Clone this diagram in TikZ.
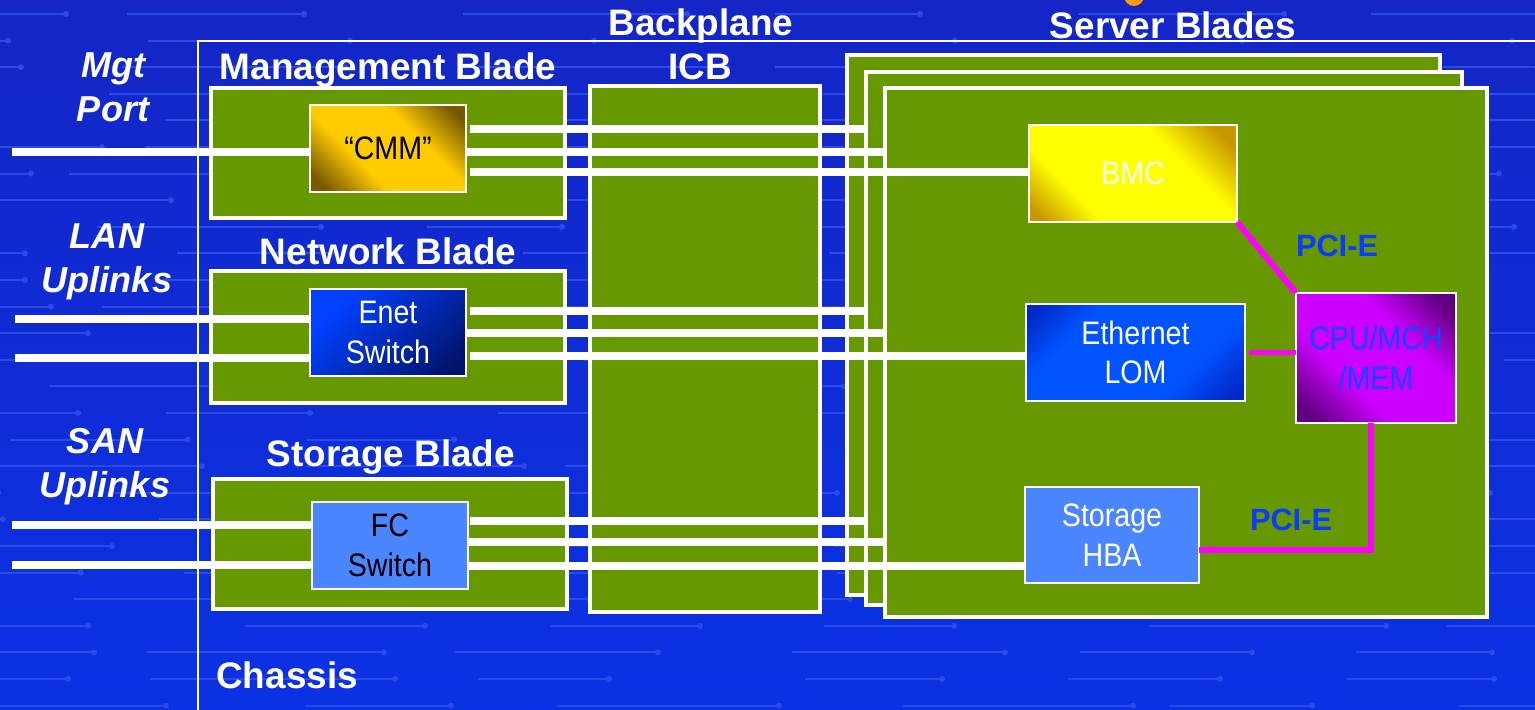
\documentclass[tikz,border=0pt]{standalone}
\usepackage{fontspec}
\setmainfont{Liberation Sans}
\newfontfamily\narrowsans[FakeStretch=0.88]{Liberation Sans}
\usetikzlibrary{calc}
\pgfdeclarelayer{bglayer}
\pgfdeclarelayer{bladelayer}
\pgfdeclarelayer{wirea}
\pgfdeclarelayer{sbmid}
\pgfdeclarelayer{wireb}
\pgfsetlayers{bglayer,bladelayer,wirea,sbmid,wireb,main}

\definecolor{bgtop}{RGB}{20,38,198}
\definecolor{bgbot}{RGB}{10,50,228}
\definecolor{patc}{RGB}{44,74,230}
\definecolor{bladegreen}{RGB}{102,153,0}
\definecolor{cmmgold}{RGB}{255,204,0}
\definecolor{cmmdark}{RGB}{120,88,0}
\definecolor{bmcyellow}{RGB}{255,255,0}
\definecolor{bmcdark}{RGB}{200,150,0}
\definecolor{cpumag}{RGB}{204,0,255}
\definecolor{cpudark}{RGB}{96,0,128}
\definecolor{enetlight}{RGB}{0,64,255}
\definecolor{enetdark}{RGB}{0,20,110}
\definecolor{lomblue}{RGB}{0,84,255}
\definecolor{lomdark}{RGB}{0,40,200}
\definecolor{hbablue}{RGB}{74,134,255}
\definecolor{pciblue}{RGB}{10,60,255}
\definecolor{cputext}{RGB}{20,70,255}
\definecolor{pcimag}{RGB}{255,0,255}
\definecolor{titleorange}{RGB}{255,153,0}

\pgfdeclarehorizontalshading{cmmsh}{100bp}{color(0bp)=(cmmdark); color(20bp)=(cmmdark); color(38bp)=(cmmgold); color(62bp)=(cmmgold); color(80bp)=(cmmdark); color(100bp)=(cmmdark)}
\pgfdeclarehorizontalshading{bmcsh}{100bp}{color(0bp)=(bmcdark); color(18bp)=(bmcdark); color(32bp)=(bmcyellow); color(64bp)=(bmcyellow); color(80bp)=(bmcdark); color(100bp)=(bmcdark)}
\pgfdeclarehorizontalshading{cpush}{100bp}{color(0bp)=(cpudark); color(20bp)=(cpudark); color(38bp)=(cpumag); color(62bp)=(cpumag); color(80bp)=(cpudark); color(100bp)=(cpudark)}
\pgfdeclarehorizontalshading{enetsh}{100bp}{color(0bp)=(enetlight); color(28bp)=(enetlight); color(78bp)=(enetdark); color(100bp)=(enetdark)}
\pgfdeclarehorizontalshading{lomsh}{100bp}{color(0bp)=(lomdark); color(18bp)=(lomdark); color(32bp)=(lomblue); color(66bp)=(lomblue); color(82bp)=(lomdark); color(100bp)=(lomdark)}

\tikzset{
  blade/.style={draw=white, line width=2.2pt, fill=bladegreen, inner sep=0pt, outer sep=0pt},
  chip/.style={draw=white, line width=1.1pt, inner sep=0pt, outer sep=0pt, align=center,
    font=\narrowsans\fontsize{18.5}{22.5}\selectfont},
  lbl/.style={text=white, font=\bfseries\fontsize{21}{25}\selectfont, inner sep=0pt, anchor=base},
  portlbl/.style={text=white, font=\bfseries\itshape\fontsize{20.5}{25}\selectfont, align=center, inner sep=0pt},
  wire/.style={draw=white, line width=4pt},
  pcie/.style={draw=pcimag, line width=3.4pt},
  pcilbl/.style={text=pciblue, font=\bfseries\fontsize{17.5}{20}\selectfont, inner sep=0pt},
  patline/.style={draw=patc, line width=1.1pt},
  patdot/.style={fill=patc},
}

\begin{document}
\begin{tikzpicture}[x=0.02cm, y=-0.02cm]
\useasboundingbox (0,0) rectangle (1535,710);

% ---------- background ----------
\begin{pgfonlayer}{bglayer}
  \shade[top color=bgtop, bottom color=bgbot] (0,0) rectangle (1535,710);
  \begin{scope}
    \clip (0,0) rectangle (1535,710);
    \pgfmathsetseed{42}
    \foreach \r in {0,...,26}{
      \pgfmathsetmacro{\yy}{14+26.6*\r}
      \pgfmathrandominteger{\off}{-280}{-20}
      \foreach \k in {0,...,6}{
        \pgfmathrandominteger{\ga}{0}{70}
        \pgfmathrandominteger{\seglen}{130}{250}
        \pgfmathsetmacro{\xa}{\off+\k*300+\ga}
        \pgfmathsetmacro{\xb}{\xa+\seglen}
        \draw[patline] (\xa,\yy) -- (\xb,\yy);
        \fill[patdot] (\xb,\yy) circle[radius=1.7pt];
      }
    }
    \fill[titleorange] (1134,-4) ellipse [x radius=0.2cm, y radius=0.2cm];
  \end{scope}
  % chassis outline
  \draw[white, line width=1.2pt] (198,720) |- (1545,41);
\end{pgfonlayer}

% ---------- blades ----------
\begin{pgfonlayer}{bladelayer}
  \node[blade, minimum width=7.08cm, minimum height=2.6cm]  (mgmt) at (388,153) {};
  \node[blade, minimum width=7.08cm, minimum height=2.64cm] (net)  at (388,337) {};
  \node[blade, minimum width=7.08cm, minimum height=2.6cm]  (stor) at (390,544) {};
  \node[blade, minimum width=4.6cm,  minimum height=10.52cm] (icb) at (705,349) {};
  \node[blade, minimum width=11.86cm, minimum height=10.8cm] (sb1) at (1143.5,325) {};
\end{pgfonlayer}
\begin{pgfonlayer}{sbmid}
  \node[blade, minimum width=11.92cm, minimum height=10.66cm] (sb2) at (1164,338.5) {};
\end{pgfonlayer}
\node[blade, minimum width=12.04cm, minimum height=10.58cm] (sb3) at (1186,352.5) {};

% ---------- chips ----------
\node[chip, shade, shading=cmmsh, shading angle=45, text=black,
      minimum width=3.12cm, minimum height=1.74cm] (cmm) at (388,148.5) {“CMM”};
\node[chip, shade, shading=enetsh, shading angle=-45, text=white,
      minimum width=3.12cm, minimum height=1.74cm] (enet) at (388,332.5) {Enet\\Switch};
\node[chip, fill=hbablue, text=black,
      minimum width=3.12cm, minimum height=1.74cm] (fc) at (390,545.5) {FC\\Switch};
\node[chip, shade, shading=bmcsh, shading angle=45, text=white,
      minimum width=4.16cm, minimum height=1.94cm] (bmc) at (1133,173.5) {BMC};
\node[chip, shade, shading=lomsh, shading angle=-45, text=white,
      minimum width=4.38cm, minimum height=1.94cm] (lom) at (1135.5,352.5) {Ethernet\\LOM};
\node[chip, shade, shading=cpush, shading angle=45, text=cputext,
      minimum width=3.2cm, minimum height=2.6cm] (cpu) at (1376,358) {CPU/MCH\\/MEM};
\node[chip, fill=hbablue, text=white,
      minimum width=3.48cm, minimum height=1.92cm] (hba) at (1112,535) {Storage\\HBA};

% ---------- labels ----------
\node[portlbl] (mgtlbl) at (113,87)  {Mgt\\Port};
\node[portlbl] (lanlbl) at (107,262) {LAN\\Uplinks};
\node[portlbl] (sanlbl) at (105,467) {SAN\\Uplinks};
\node[lbl] (mgmtlbl) at (388,79)  {Management Blade};
\node[lbl] (netlbl)  at (388,264) {Network Blade};
\node[lbl] (storlbl) at (391,466) {Storage Blade};
\node[lbl] (bplbl)   at (701,35)  {Backplane};
\node[lbl] (icblbl)  at (700,79)  {ICB};
\node[lbl] (sblbl)   at (1173,38) {Server Blades};
\node[lbl, anchor=base west] (chlbl) at (216,688) {Chassis};
\node[pcilbl] (pci1) at (1337,246) {PCI-E};
\node[pcilbl] (pci2) at (1291,520) {PCI-E};

% ---------- external ports ----------
\coordinate (mgtport) at (12,152);
\coordinate (lan1) at (15,319);
\coordinate (lan2) at (15,358);
\coordinate (san1) at (12,525);
\coordinate (san2) at (12,565);

\begin{pgfonlayer}{wirea}
  \draw[wire] (mgtport) -- (mgtport -| cmm.west);
  \draw[wire] (lan1) -- (lan1 -| enet.west);
  \draw[wire] (lan2) -- (lan2 -| enet.west);
  \draw[wire] (san1) -- (san1 -| fc.west);
  \draw[wire] (san2) -- (san2 -| fc.west);
  % to the rear server blade
  \draw[wire] ([xshift=2.3pt]cmm.east |- 0,129)  -- (sb2.west |- 0,129);
  \draw[wire] ([xshift=2.3pt]enet.east |- 0,311) -- (sb2.west |- 0,311);
  \draw[wire] ([xshift=1pt]fc.east |- 0,521)     -- (sb2.west |- 0,521);
\end{pgfonlayer}

\begin{pgfonlayer}{wireb}
  \draw[wire] (cmm.east |- 0,152)  -- (sb3.west |- 0,152);
  \draw[wire] (enet.east |- 0,333) -- (sb3.west |- 0,333);
  \draw[wire] (fc.east |- 0,542)   -- (sb3.west |- 0,542);
\end{pgfonlayer}

\draw[wire] ([xshift=2.3pt]cmm.east |- 0,172)  -- (bmc.west |- 0,172);
\draw[wire] ([xshift=2.3pt]enet.east |- 0,356) -- (lom.west |- 0,356);
\draw[wire] (fc.east |- 0,566) -- (hba.west |- 0,566);

% ---------- PCI-E links ----------
\draw[pcie] (bmc.south east) -- (cpu.north west);
\draw[pcie] ([xshift=2pt]lom.east) -- (lom.east -| cpu.west);
\draw[pcie] ([xshift=-3pt]cpu.south) |- ($(hba.east)+(0,15)$);
\end{tikzpicture}
\end{document}
